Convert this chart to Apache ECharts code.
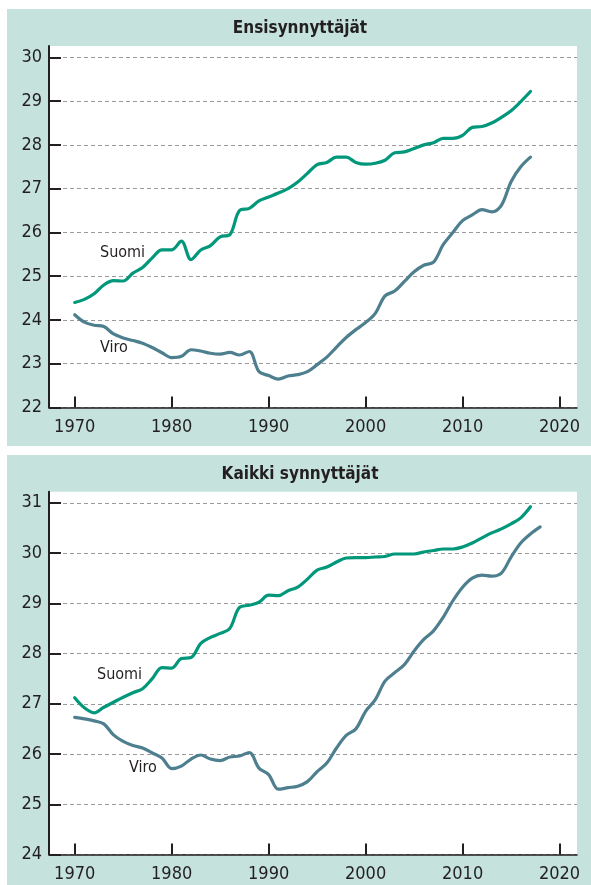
<!DOCTYPE html>
<html>
<head>
<meta charset="utf-8">
<script src="https://cdn.jsdelivr.net/npm/echarts@6/dist/echarts.min.js"></script>
<style>
html,body{margin:0;padding:0;background:#fff;}
#chart{width:591px;height:885px;}
</style>
</head>
<body>
<div id="chart"></div>
<script>
// ---- Data ----
var years1 = [];
for (var y = 1970; y <= 2017; y++) years1.push(y);
var years2 = [];
for (var y2 = 1970; y2 <= 2018; y2++) years2.push(y2);

var title1 = 'Ensisynnyttäjät';
var title2 = 'Kaikki synnyttäjät';
var seriesNames = ['Suomi', 'Viro'];

// Ensisynnyttäjät (first-time mothers), mean age
var suomiFirst = [24.40,24.47,24.60,24.80,24.90,24.89,25.07,25.20,25.42,25.60,
  25.60,25.80,25.38,25.60,25.70,25.90,25.95,26.50,26.55,26.72,
  26.81,26.90,27.00,27.15,27.35,27.55,27.60,27.72,27.72,27.60,
  27.56,27.58,27.65,27.82,27.84,27.92,28.00,28.05,28.15,28.15,
  28.22,28.40,28.42,28.50,28.63,28.78,28.99,29.22];
var viroFirst = [24.12,23.95,23.88,23.85,23.68,23.59,23.53,23.47,23.37,23.25,
  23.14,23.17,23.32,23.29,23.24,23.22,23.26,23.20,23.28,22.82,
  22.73,22.65,22.72,22.75,22.82,22.98,23.15,23.38,23.60,23.78,
  23.94,24.15,24.55,24.66,24.88,25.10,25.25,25.32,25.72,26.00,
  26.27,26.40,26.52,26.47,26.62,27.16,27.50,27.72];

// Kaikki synnyttäjät (all mothers), mean age
var suomiAll = [27.12,26.92,26.82,26.93,27.03,27.13,27.22,27.30,27.50,27.72,
  27.71,27.90,27.92,28.20,28.32,28.40,28.50,28.92,28.96,29.02,
  29.16,29.15,29.25,29.32,29.48,29.66,29.72,29.82,29.90,29.91,
  29.91,29.92,29.93,29.98,29.98,29.98,30.02,30.05,30.08,30.08,
  30.12,30.20,30.30,30.40,30.48,30.58,30.70,30.92];
var viroAll = [26.73,26.70,26.66,26.60,26.38,26.25,26.17,26.12,26.02,25.92,
  25.71,25.76,25.90,25.98,25.90,25.87,25.94,25.96,26.03,25.72,
  25.59,25.30,25.33,25.36,25.45,25.65,25.82,26.12,26.37,26.50,
  26.85,27.08,27.45,27.62,27.78,28.05,28.28,28.45,28.72,29.05,
  29.32,29.50,29.56,29.54,29.60,29.92,30.20,30.38,30.52];

var xTicks = [1970,1980,1990,2000,2010,2020];
var yTicks1 = [22,23,24,25,26,27,28,29,30];
var yTicks2 = [24,25,26,27,28,29,30,31];

// ---- Styles ----
var MINT = '#c5e2dc';
var GREEN = '#00977a';
var BLUE = '#4e7f8f';
var DARK = '#231f20';
var FONT = '"Liberation Sans Narrow", "DejaVu Sans Condensed", sans-serif';

function pairs(xs, vs) { return vs.map(function (v, i) { return [xs[i], v]; }); }

function xAxisFor(gi) {
  return {
    type: 'value', gridIndex: gi, min: 1967.35, max: 2021.8,
    axisLine: { show: true, onZero: false, lineStyle: { color: DARK, width: 1.5 } },
    axisTick: { show: true, inside: true, length: 11, customValues: xTicks, lineStyle: { color: DARK, width: 2 } },
    axisLabel: { customValues: xTicks, color: DARK, fontFamily: FONT, fontSize: 18, margin: 11,
      formatter: function (v) { return String(v); } },
    splitLine: { show: false }
  };
}
function yAxisFor(gi, min, max, ticks) {
  return {
    type: 'value', gridIndex: gi, min: min, max: max,
    axisLine: { show: true, onZero: false, lineStyle: { color: DARK, width: 2 } },
    axisTick: { show: true, inside: true, length: 12, customValues: ticks, lineStyle: { color: DARK, width: 2 } },
    axisLabel: { customValues: ticks, color: DARK, fontFamily: FONT, fontSize: 18, margin: 7 },
    splitLine: { show: true, lineStyle: { color: '#9a9a9a', width: 1, type: [4, 3] } }
  };
}
function lineSeries(name, xi, data, color) {
  return {
    type: 'line', name: name, xAxisIndex: xi, yAxisIndex: xi, data: data,
    showSymbol: false, symbol: 'none', smooth: 0.35,
    lineStyle: { color: color, width: 3.2, cap: 'round', join: 'round' },
    itemStyle: { color: color }, z: 5
  };
}

var chart = echarts.init(document.getElementById('chart'), null, { renderer: 'canvas' });
chart.setOption({
  backgroundColor: '#ffffff',
  animation: false,
  grid: [
    { left: 49, right: 14, top: 46, height: 361.5, show: true, backgroundColor: '#ffffff', borderWidth: 0 },
    { left: 49, right: 14, top: 491.7, height: 362.8, show: true, backgroundColor: '#ffffff', borderWidth: 0 }
  ],
  xAxis: [xAxisFor(0), xAxisFor(1)],
  yAxis: [yAxisFor(0, 22, 30.26, yTicks1), yAxisFor(1, 24, 31.22, yTicks2)],
  series: [
    lineSeries(seriesNames[0], 0, pairs(years1, suomiFirst), GREEN),
    lineSeries(seriesNames[1], 0, pairs(years1, viroFirst), BLUE),
    lineSeries(seriesNames[0], 1, pairs(years1, suomiAll), GREEN),
    lineSeries(seriesNames[1], 1, pairs(years2, viroAll), BLUE)
  ],
  graphic: [
    { type: 'rect', z: -10, silent: true, shape: { x: 7, y: 9, width: 584, height: 437 }, style: { fill: MINT } },
    { type: 'rect', z: -10, silent: true, shape: { x: 7, y: 455, width: 584, height: 430 }, style: { fill: MINT } },
    { type: 'text', z: 10, x: 300, y: 29, style: { text: title1, fill: DARK, font: 'bold 17px ' + FONT, align: 'center', verticalAlign: 'middle' } },
    { type: 'text', z: 10, x: 300, y: 475, style: { text: title2, fill: DARK, font: 'bold 17px ' + FONT, align: 'center', verticalAlign: 'middle' } },
    { type: 'text', z: 10, x: 100, y: 253, style: { text: seriesNames[0], fill: DARK, font: '16px ' + FONT, align: 'left', verticalAlign: 'middle' } },
    { type: 'text', z: 10, x: 100, y: 348, style: { text: seriesNames[1], fill: DARK, font: '16px ' + FONT, align: 'left', verticalAlign: 'middle' } },
    { type: 'text', z: 10, x: 97, y: 675, style: { text: seriesNames[0], fill: DARK, font: '16px ' + FONT, align: 'left', verticalAlign: 'middle' } },
    { type: 'text', z: 10, x: 129, y: 768, style: { text: seriesNames[1], fill: DARK, font: '16px ' + FONT, align: 'left', verticalAlign: 'middle' } }
  ]
});
</script>
</body>
</html>
